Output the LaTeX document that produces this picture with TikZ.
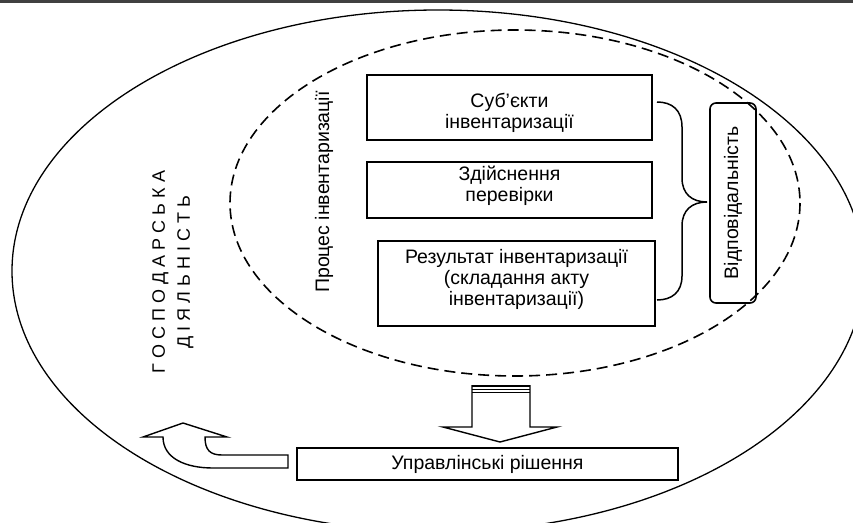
\documentclass[tikz,border=0pt]{standalone}
\usepackage{fontspec}
\setmainfont{Liberation Sans}

\begin{document}
\begin{tikzpicture}[x=1pt,y=-1pt,
    font=\fontsize{19.5}{21}\selectfont,
    box/.style={draw, line width=1.6pt, align=center, inner sep=0pt},
    dashline/.style={line width=1.6pt, dash pattern=on 11pt off 6pt},
    blockarrow/.style={draw, line width=1.4pt, fill=white, line join=miter}]
  \useasboundingbox (0,0) rectangle (853,522);
  \clip (0,0) rectangle (853,522);
  \fill[black!75] (0,0) rectangle (853,2.5);
  % outer and inner areas
  \draw[line width=1.3pt] (438,271) ellipse [x radius=426, y radius=261];
  \draw[dashline] (515,203) ellipse [x radius=285, y radius=173];
  \node[align=center, rotate=90, font=\fontsize{18}{25}\selectfont] (gosp) at (173,272)
    {Г О С П О Д А Р С Ь К А\\Д І Я Л Ь Н І С Т Ь};
  \node[rotate=90] (proc) at (324,192) {Процес інвентаризації};
  % stages
  \node[box, minimum width=285, minimum height=65] (subj) at (509.5,107.5) {};
  \node[align=center] at ([yshift=-5pt]subj.center) {Суб’єкти\\інвентаризації};
  \node[box, minimum width=285, minimum height=56] (perev) at (509.5,190) {};
  \node[align=center] at ([yshift=4pt]perev.center) {Здійснення\\перевірки};
  \node[box, minimum width=277, minimum height=85] (result) at (516.5,283.5) {};
  \node[align=center] at ([yshift=4pt]result.center)
    {Результат інвентаризації\\(складання акту\\інвентаризації)};
  \node[box, rounded corners=6pt, rotate=90, minimum width=200, minimum height=46]
    (resp) at (733,203) {Відповідальність};
  \node[box, line width=1.5pt, minimum width=381, minimum height=32] (dec) at (487.5,464)
    {Управлінські рішення};
  % brace
  \coordinate (tip) at (707,202);
  \draw[line width=1.5pt] (657,102) .. controls (672,102) and (682,110) .. (682,127)
    -- (682,178) .. controls (682,194) and (692,202) .. (tip)
    .. controls (692,202) and (682,210) .. (682,226)
    -- (682,276) .. controls (682,292) and (672,300) .. (657,300);
  % arrow down
  \draw[blockarrow] (472,385) -- (472,427) -- (443,427) -- (500,442)
    -- (557,427) -- (530,427) -- (530,385);
  \draw[line width=2.5pt] (472,386) -- (530,386);
  \draw[line width=1pt] (472,389.5) -- (530,389.5);
  \draw[line width=1pt] (472,392.5) -- (530,392.5);
  % arrow back
  \draw[blockarrow] (288,455) -- (288,468) -- (213,468)
    .. controls (185,468) and (163,458) .. (163,437)
    -- (143,437) -- (183,423) -- (227,437) -- (205,437)
    .. controls (205,450) and (210,455) .. (222,455) -- cycle;
\end{tikzpicture}
\end{document}
